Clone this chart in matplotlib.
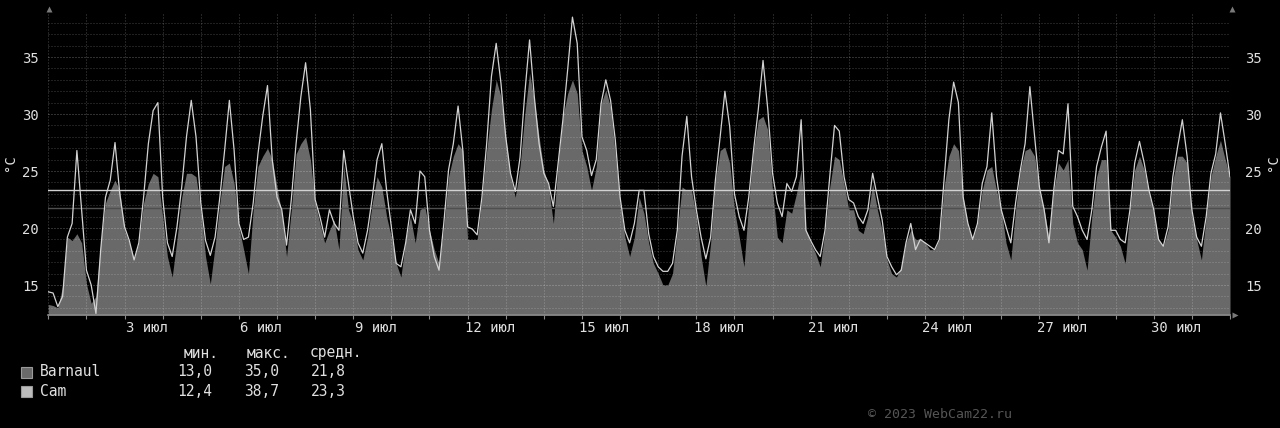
import numpy as np
import matplotlib.pyplot as plt
from matplotlib.lines import Line2D
from matplotlib.patches import Rectangle

plt.rcParams['font.family'] = ['DejaVu Sans Mono']

# температура, отсчёты каждые 3 часа от начала 1 июля
step_hours = 3
barnaul = [
    13.3, 13.2, 13.0, 14.9, 19.2, 18.9, 19.5, 18.7, 15.1, 13.4,
    14.0, 18.7, 22.2, 23.3, 24.2, 23.3, 19.8, 18.7, 17.3, 18.7,
    22.2, 23.9, 24.8, 24.5, 21.0, 17.5, 15.7, 19.0, 22.7, 24.8,
    24.8, 24.5, 21.6, 17.5, 15.1, 18.4, 22.2, 25.4, 25.7, 23.9,
    20.1, 18.1, 16.0, 21.6, 25.4, 26.3, 27.0, 26.0, 23.6, 21.3,
    17.5, 21.6, 26.5, 27.4, 28.0, 26.0, 22.2, 20.4, 18.7, 19.8,
    20.7, 18.1, 25.5, 21.6, 20.4, 18.1, 17.2, 19.2, 22.2, 24.5,
    23.6, 21.0, 19.2, 16.9, 15.7, 19.0, 21.0, 18.7, 21.6, 21.9,
    19.8, 18.1, 16.9, 20.1, 24.5, 26.3, 27.4, 26.8, 19.0, 19.0,
    19.0, 22.7, 26.8, 30.4, 33.0, 31.5, 28.0, 24.5, 22.7, 25.4,
    30.0, 33.6, 31.2, 28.0, 25.1, 23.6, 20.4, 25.7, 29.8, 31.8,
    33.0, 31.8, 26.8, 25.4, 23.3, 25.4, 30.9, 32.1, 30.6, 26.5,
    22.2, 19.2, 17.5, 19.2, 22.7, 21.3, 18.7, 16.9, 16.0, 15.0,
    15.0, 16.0, 19.8, 23.6, 23.3, 23.3, 21.0, 17.5, 14.9, 18.7,
    24.2, 26.8, 27.1, 25.7, 21.6, 19.2, 16.6, 22.2, 26.8,
    29.5, 29.8, 28.6, 23.3, 19.2, 18.7, 21.6, 21.3, 23.0, 25.1,
    19.8, 18.7, 17.8, 16.6, 19.8, 23.6, 26.3, 26.0, 23.9, 21.6,
    21.6, 19.8, 19.5, 21.0, 23.9, 21.6, 19.8, 17.2, 16.0, 15.7,
    16.6, 18.7, 19.8, 19.0, 19.0, 18.7, 18.1, 18.1, 19.0, 23.6,
    26.3, 27.4, 26.8, 22.7, 20.1, 19.0, 20.4, 23.3, 25.1,
    25.4, 23.3, 21.6, 18.7, 17.2, 21.6, 25.1, 26.8, 27.0, 26.3,
    23.3, 21.6, 19.2, 23.3, 25.7, 25.1, 26.0, 20.4, 18.7, 18.1,
    16.3, 21.0, 24.5, 26.0, 26.0, 19.8, 19.2, 18.4, 16.9, 21.6,
    25.1, 26.3, 25.1, 23.0, 21.3, 19.0, 18.4, 19.8, 24.2, 26.3,
    26.3, 25.7, 21.0, 19.0, 17.2, 21.0, 24.5, 26.3, 27.7, 26.0,
    24.5,
]
cam = [
    14.4, 14.3, 13.1, 14.0, 19.2, 20.4, 26.8, 21.5, 16.3, 15.0,
    12.5, 18.1, 22.7, 24.2, 27.5, 23.0, 20.1, 18.9, 17.2, 18.7,
    22.7, 27.4, 30.3, 31.0, 22.7, 18.7, 17.5, 20.1, 23.6, 28.0,
    31.2, 28.0, 22.2, 18.9, 17.6, 19.2, 22.7, 26.8, 31.2, 26.8,
    20.4, 19.0, 19.2, 22.2, 26.5, 29.8, 32.5, 26.0, 22.7, 21.6,
    18.5, 22.5, 27.4, 31.5, 34.5, 30.4, 22.5, 21.0, 19.2, 21.6,
    20.4, 19.8, 26.8, 23.9, 21.0, 18.7, 17.8, 19.8, 22.7, 26.0,
    27.4, 23.3, 20.1, 16.9, 16.6, 18.7, 21.6, 20.4, 25.0, 24.5,
    19.8, 17.5, 16.3, 20.4, 25.1, 27.4, 30.7, 26.8, 20.1, 19.9,
    19.4, 22.7, 27.4, 33.3, 36.2, 32.7, 28.0, 24.8, 23.2, 26.2,
    31.8, 36.5, 31.5, 27.4, 24.8, 23.9, 21.9, 25.7, 29.5, 33.9,
    38.5, 36.2, 28.0, 26.8, 24.6, 26.0, 30.9, 33.0, 31.2, 27.7,
    22.7, 19.8, 18.7, 20.4, 23.3, 23.3, 19.5, 17.5, 16.6, 16.2,
    16.2, 16.9, 19.8, 26.3, 29.8, 24.5, 21.6, 19.2, 17.3, 19.2,
    24.2, 28.0, 32.0, 28.9, 23.0, 21.0, 19.8, 22.7, 26.8,
    30.4, 34.7, 30.4, 24.8, 22.2, 21.0, 23.9, 23.2, 24.5, 29.5,
    19.8, 18.9, 18.1, 17.5, 19.8, 24.5, 29.0, 28.5, 24.5, 22.5,
    22.2, 21.0, 20.4, 21.6, 24.8, 22.7, 20.7, 17.5, 16.6, 15.9,
    16.3, 18.7, 20.4, 18.1, 19.0, 18.7, 18.4, 18.1, 19.0, 24.2,
    29.5, 32.8, 31.0, 22.7, 20.4, 19.0, 20.4, 23.9, 25.4,
    30.1, 24.5, 21.6, 20.1, 18.7, 22.2, 25.1, 27.4, 32.4, 28.0,
    23.6, 21.6, 18.7, 23.3, 26.8, 26.5, 30.9, 21.9, 21.0, 19.8,
    19.0, 21.6, 25.4, 27.1, 28.5, 19.8, 19.8, 19.0, 18.7, 21.6,
    25.7, 27.6, 25.7, 23.3, 21.6, 19.0, 18.4, 20.1, 24.5, 27.1,
    29.5, 26.3, 21.6, 19.2, 18.4, 21.0, 24.8, 26.5, 30.1, 27.4,
    24.5,
]
series_names = ["Barnaul", "Cam"]
stat_min = ["13,0", "12,4"]
stat_max = ["35,0", "38,7"]
stat_avg = ["21,8", "23,3"]
avg_values = [21.8, 23.3]
label_days = [3, 6, 9, 12, 15, 18, 21, 24, 27, 30]
y_ticks = [15, 20, 25, 30, 35]

days = np.arange(len(cam)) * step_hours / 24.0

W, H = 1280, 428
bg = "black"
txt = "#e0e0e0"
area_col = "#696969"
cam_col = "#d2d2d2"

fig = plt.figure(figsize=(W / 100, H / 100), dpi=100, facecolor=bg)
left, right, top, bottom = 48.3, 1230.0, 12.0, 315.0
ax = fig.add_axes([left / W, 1 - bottom / H, (right - left) / W, (bottom - top) / H])
ax.set_facecolor(bg)
ymin, ymax = 12.37, 38.95
ax.set_xlim(0, 31)
ax.set_ylim(ymin, ymax)

ax.fill_between(days, ymin, barnaul, color=area_col, lw=0, zorder=1)
ax.plot(days, cam, color=cam_col, lw=0.9, zorder=3)
ax.axhline(avg_values[0], color="#4f4f4f", lw=1.0, zorder=2)
ax.axhline(avg_values[1], color=cam_col, lw=1.0, zorder=3)

# сетка
for d in range(0, 32):
    ax.axvline(d, color="white", alpha=0.28, lw=0.72, ls=(0, (1, 2)), zorder=4)
for t in range(13, 39):
    a = 0.38 if t % 5 == 0 else 0.26
    ax.axhline(t, color="white", alpha=a, lw=0.72, ls=(0, (1, 2)), zorder=4)

for s in ax.spines.values():
    s.set_visible(False)
ax.axhline(ymin + 0.02, color="#8a8a8a", lw=1.2, zorder=5, clip_on=False)

ax.set_xticks([d - 1 + 0.59 for d in label_days])
ax.set_xticklabels([f"{d} июл" for d in label_days])
ax.set_xticks(range(0, 32), minor=True)
ax.tick_params(axis="x", which="major", length=0, pad=4, labelsize=10, labelcolor=txt)
ax.tick_params(axis="x", which="minor", length=3, color="#8a8a8a", width=0.8)
ax.set_yticks(y_ticks)
ax.tick_params(axis="y", length=0, pad=7, labelsize=10, labelcolor=txt)

ax2 = ax.twinx()
ax2.set_ylim(ymin, ymax)
ax2.set_yticks(y_ticks)
ax2.tick_params(axis="y", length=0, pad=11, labelsize=10, labelcolor=txt)
for s in ax2.spines.values():
    s.set_visible(False)

fig.text(10 / W, 1 - 163 / H, "°C", color=txt, fontsize=10, rotation=90, ha="center", va="center")
fig.text(1273 / W, 1 - 163 / H, "°C", color=txt, fontsize=10, rotation=90, ha="center", va="center")

# стрелки осей
for (px, py, m) in [(48.5, 9, "^"), (1232, 9, "^"), (1235, 315, ">")]:
    fig.add_artist(Line2D([px / W], [1 - py / H], marker=m, ms=5, color="#7a7a7a",
                          mec="none", transform=fig.transFigure))

# легенда
fs = 10.5
for x, s in zip([183.3, 246.7, 310.0], ["мин.", "макс.", "средн."]):
    fig.text(x / W, 1 - 353 / H, s, color=txt, fontsize=fs, va="center")
colors = [area_col, "#bdbdbd"]
for i, name in enumerate(series_names):
    y = 372 + 19 * i
    fig.add_artist(Rectangle((21 / W, 1 - (y + 6) / H), 11 / W, 11 / H, facecolor=colors[i],
                             edgecolor="#9a9a9a", lw=0.8, transform=fig.transFigure))
    fig.text(40 / W, 1 - y / H, name, color=txt, fontsize=fs, va="center")
    for x, s in zip([177.3, 244.3, 311.3], [stat_min[i], stat_max[i], stat_avg[i]]):
        fig.text(x / W, 1 - y / H, s, color=txt, fontsize=fs, va="center")

fig.text(868 / W, 1 - 414 / H, "© 2023 WebCam22.ru", color="#555555", fontsize=9.5, va="center")

fig.savefig("out.png", dpi=100, facecolor=bg)
